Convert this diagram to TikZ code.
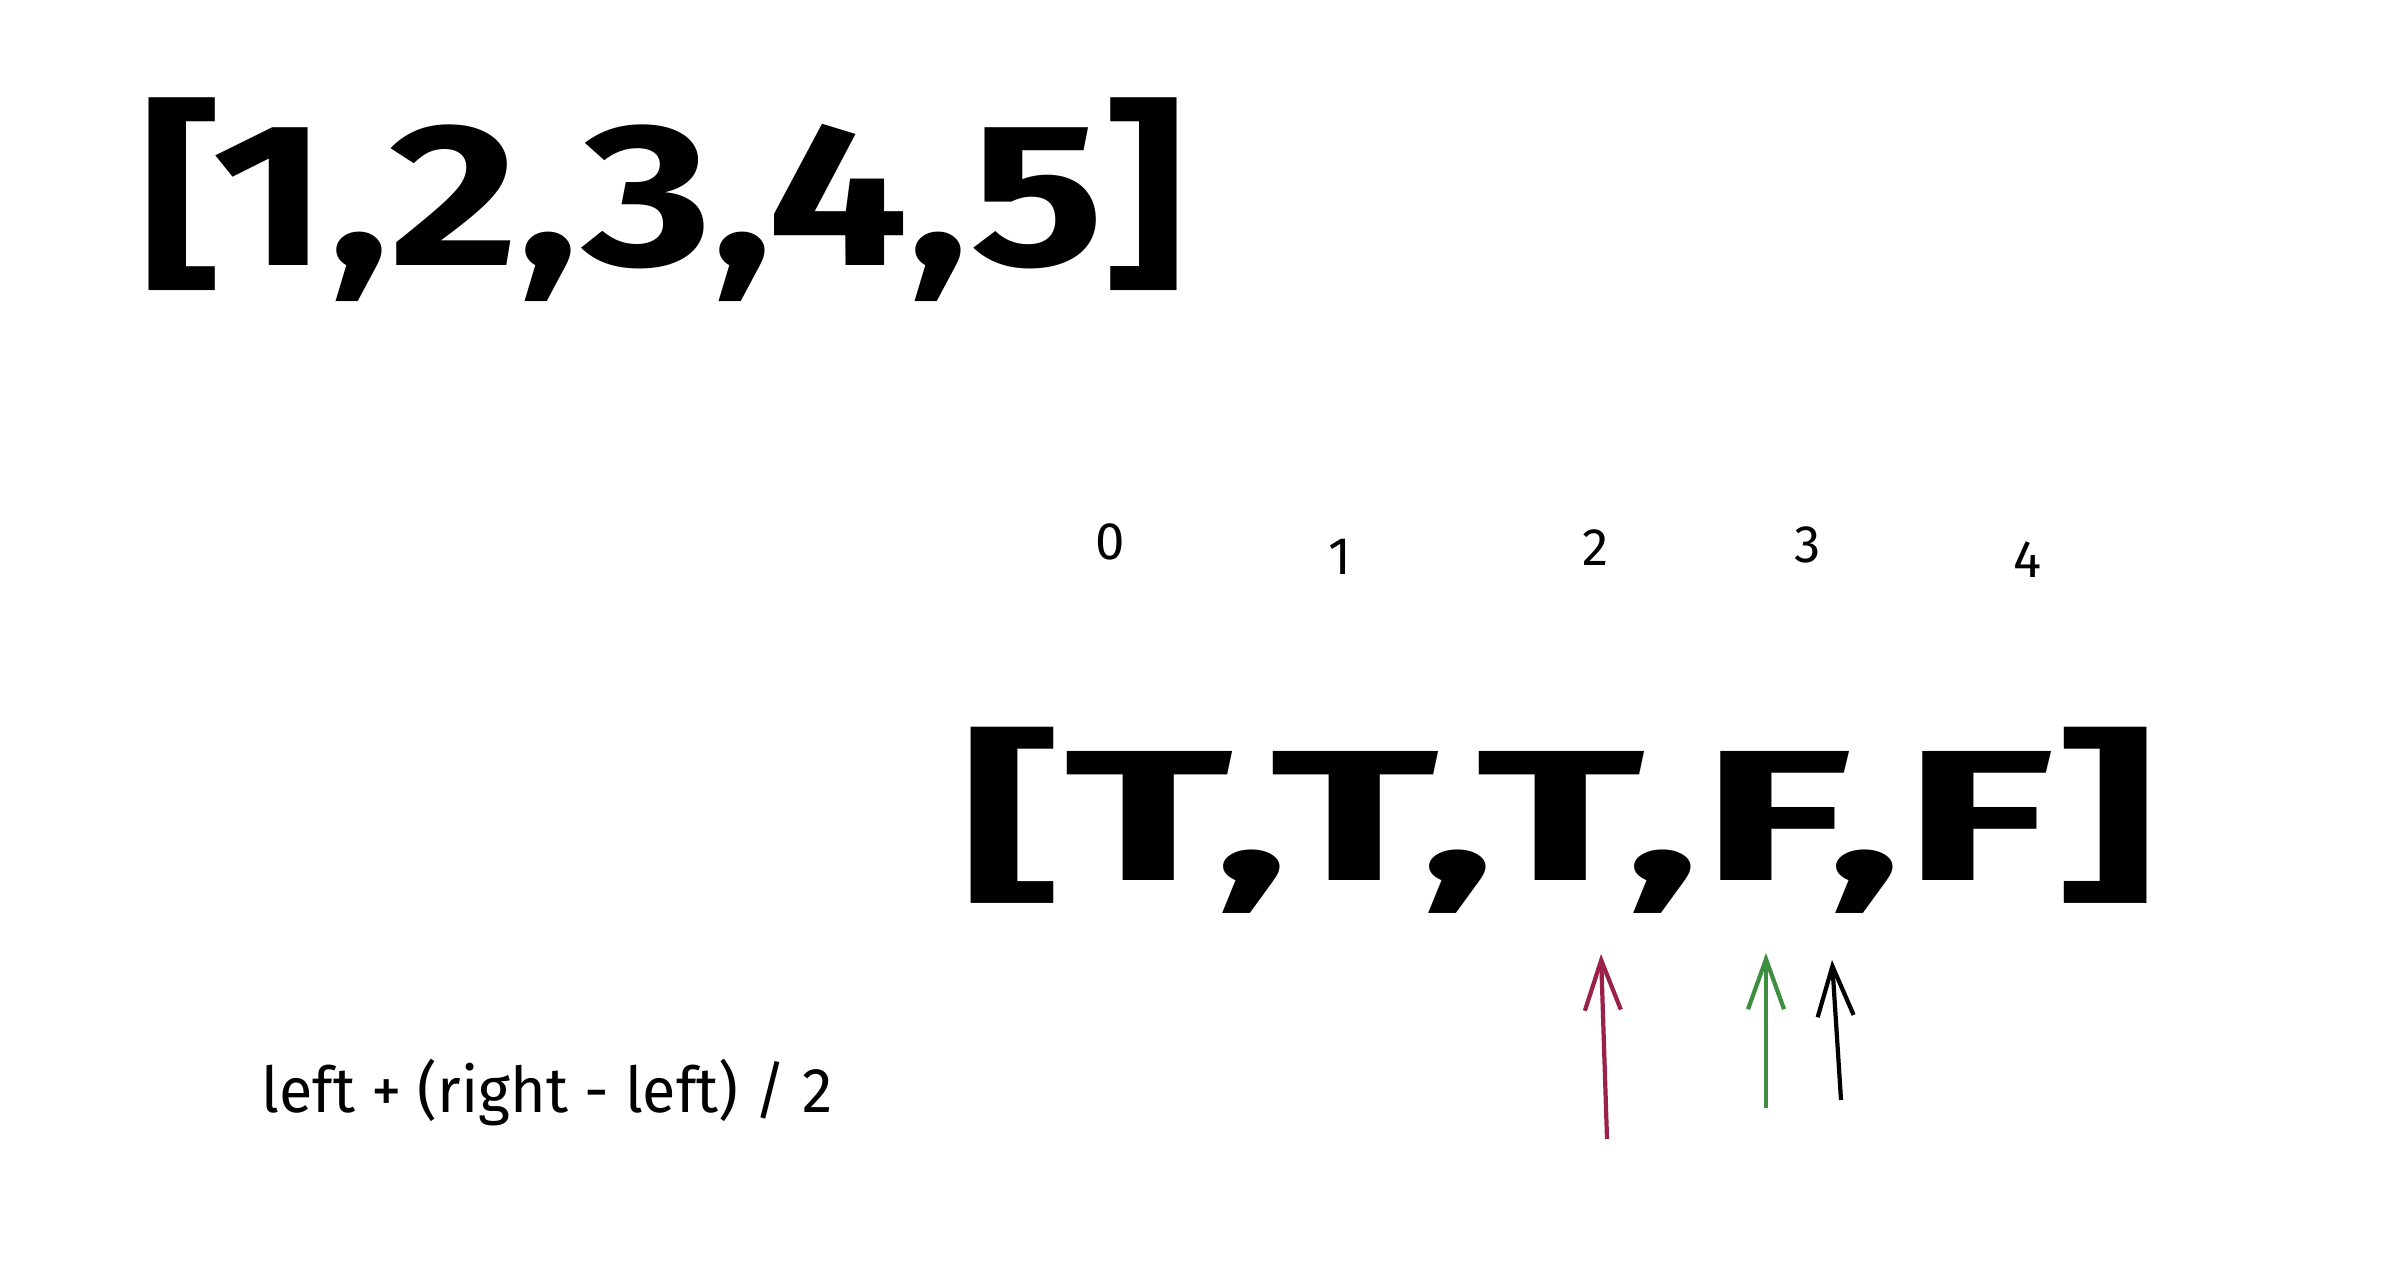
\documentclass[tikz,border=0pt]{standalone}
\usepackage{graphicx}
\usepackage{fontspec}
\setmainfont{Fira Sans}
\usepackage{tikz}
\usetikzlibrary{arrows.meta, positioning}
\definecolor{ptrred}{HTML}{9A2149}
\definecolor{ptrgreen}{HTML}{3E8E41}

\begin{document}
\begin{tikzpicture}[
    array/.style={anchor=base west, inner sep=0pt, font=\bfseries},
    index/.style={inner sep=0pt, font=\fontsize{15}{18}\selectfont},
    pointer/.style={line width=1.2pt, -{Straight Barb[length=5mm, width=3.6mm]}}
]
    \useasboundingbox (0,0) rectangle (23.82,12.80);

    \node[array, font=\bfseries\fontsize{58}{60}\selectfont] (nums) at (1.40,10.14) {\resizebox{10.45cm}{\height}{[1,2,3,4,5]}};

    \node[index] (i0) at (11.10,7.38) {0};
    \node[index] (i1) at (13.40,7.23) {1};
    \node[index] (i2) at (15.96,7.32) {2};
    \node[index] (i3) at (18.08,7.35) {3};
    \node[index] (i4) at (20.27,7.20) {4};

    \node[array, font=\bfseries\fontsize{53}{56}\selectfont] (flags) at (9.60,3.99) {\resizebox{11.97cm}{\height}{[T,T,T,F,F]}};

    \node[anchor=base west, inner sep=0pt, font=\fontsize{18}{20}\selectfont] (formula) at (2.61,1.67) {\resizebox{5.71cm}{\height}{left + (right - left) / 2}};

    \coordinate (mtail) at (16.07,1.41);
    \coordinate (mtip) at (16.01,3.26);
    \coordinate (ltail) at (17.66,1.72);
    \coordinate (ltip) at (17.66,3.27);
    \coordinate (rtail) at (18.41,1.80);
    \coordinate (rtip) at (18.32,3.20);

    \draw[pointer, ptrred] (mtail) -- (mtip);
    \draw[pointer, ptrgreen] (ltail) -- (ltip);
    \draw[pointer, black] (rtail) -- (rtip);
\end{tikzpicture}
\end{document}
